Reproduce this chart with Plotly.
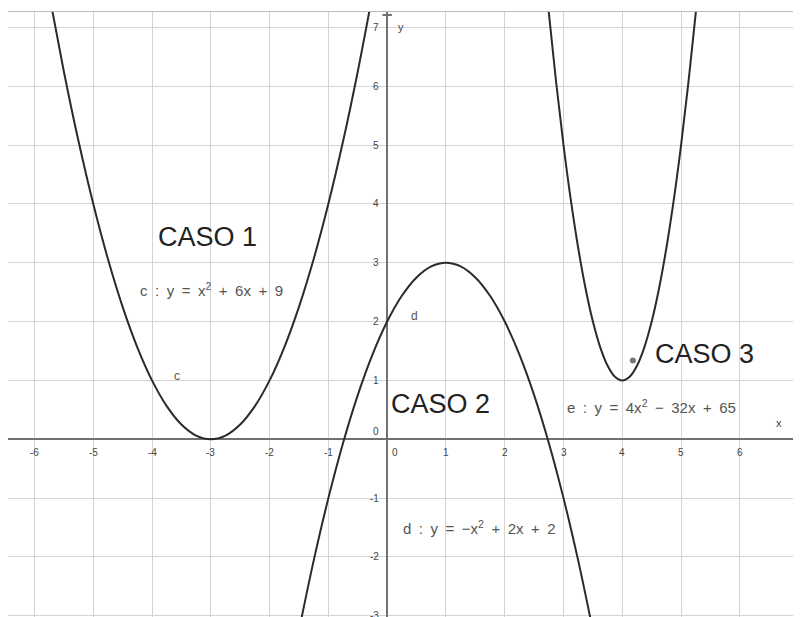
import plotly.graph_objects as go

# ---- data ----
c_x = [-6.0, -5.75, -5.5, -5.25, -5.0, -4.75, -4.5, -4.25, -4.0, -3.75, -3.5, -3.25, -3.0,
       -2.75, -2.5, -2.25, -2.0, -1.75, -1.5, -1.25, -1.0, -0.75, -0.5, -0.25, 0.0]
c_y = [9, 7.5625, 6.25, 5.0625, 4, 3.0625, 2.25, 1.5625, 1, 0.5625, 0.25, 0.0625, 0,
       0.0625, 0.25, 0.5625, 1, 1.5625, 2.25, 3.0625, 4, 5.0625, 6.25, 7.5625, 9]

d_x = [-1.5, -1.25, -1.0, -0.75, -0.5, -0.25, 0.0, 0.25, 0.5, 0.75, 1.0, 1.25, 1.5, 1.75,
       2.0, 2.25, 2.5, 2.75, 3.0, 3.25, 3.5]
d_y = [-3.25, -2.0625, -1, -0.0625, 0.75, 1.4375, 2, 2.4375, 2.75, 2.9375, 3, 2.9375, 2.75,
       2.4375, 2, 1.4375, 0.75, -0.0625, -1, -2.0625, -3.25]

e_x = [2.5, 2.625, 2.75, 2.875, 3.0, 3.125, 3.25, 3.375, 3.5, 3.625, 3.75, 3.875, 4.0,
       4.125, 4.25, 4.375, 4.5, 4.625, 4.75, 4.875, 5.0, 5.125, 5.25, 5.375, 5.5]
e_y = [10, 8.5625, 7.25, 6.0625, 5, 4.0625, 3.25, 2.5625, 2, 1.5625, 1.25, 1.0625, 1,
       1.0625, 1.25, 1.5625, 2, 2.5625, 3.25, 4.0625, 5, 6.0625, 7.25, 8.5625, 10]

point_x = [4.18]
point_y = [1.34]

x_ticks = [-6, -5, -4, -3, -2, -1, 1, 2, 3, 4, 5, 6, 7]
y_ticks = [-3, -2, -1, 1, 2, 3, 4, 5, 6, 7]

case_labels = ["CASO 1", "CASO 2", "CASO 3"]
case_x = [-3.05, 0.9, 5.4]
case_y = [3.43, 0.6, 1.45]

S = "\u2002"
eq_labels = [f"c{S}:{S}y{S}={S}x<sup>2</sup>{S}+{S}6x{S}+{S}9",
             f"d{S}:{S}y{S}={S}\u2212x<sup>2</sup>{S}+{S}2x{S}+{S}2",
             f"e{S}:{S}y{S}={S}4x<sup>2</sup>{S}\u2212{S}32x{S}+{S}65"]
eq_x = [-2.98, 1.57, 4.5]
eq_y = [2.55, -1.5, 0.55]

name_labels = ["c", "d"]
name_x = [-3.57, 0.47]
name_y = [1.07, 2.09]

curve_color = "#2b2b2b"
fig = go.Figure()
for xs, ys in [(c_x, c_y), (d_x, d_y), (e_x, e_y)]:
    fig.add_trace(go.Scatter(x=xs, y=ys, mode="lines", line=dict(color=curve_color, width=2, shape="spline"),
                             hoverinfo="skip", showlegend=False))
fig.add_trace(go.Scatter(x=point_x, y=point_y, mode="markers", marker=dict(color="#777777", size=6),
                         hoverinfo="skip", showlegend=False))

ann = []
font_tick = dict(family="Liberation Sans, Arial", size=10, color="#444444")
for v in x_ticks:
    if v == x_ticks[-1]:
        ann.append(dict(x=v, y=0, text=str(v), showarrow=False, font=font_tick, yanchor="top", yshift=-6,
                        xanchor="left", xshift=-3))
    else:
        ann.append(dict(x=v, y=0, text=str(v), showarrow=False, font=font_tick, yanchor="top", yshift=-6))
ann.append(dict(x=0, y=0, text="0", showarrow=False, font=font_tick, yanchor="top", yshift=-6, xshift=8))
for v in y_ticks:
    ann.append(dict(x=0, y=v, text=str(v), showarrow=False, font=font_tick, xanchor="right", xshift=-6))
ann.append(dict(x=0, y=0, text="0", showarrow=False, font=font_tick, xanchor="right", xshift=-6, yshift=8))
ann.append(dict(x=6.67, y=0.28, text="x", showarrow=False, font=dict(family="Liberation Sans", size=11, color="#444444")))
ann.append(dict(x=0.23, y=7.0, text="y", showarrow=False, font=dict(family="Liberation Sans", size=11, color="#444444")))

for t, x, y in zip(case_labels, case_x, case_y):
    ann.append(dict(x=x, y=y, text=t, showarrow=False, font=dict(family="Liberation Sans, Arial", size=27, color="#222222")))
for t, x, y in zip(eq_labels, eq_x, eq_y):
    ann.append(dict(x=x, y=y, text=t, showarrow=False, font=dict(family="Liberation Sans, Arial", size=15, color="#555555")))
for t, x, y in zip(name_labels, name_x, name_y):
    ann.append(dict(x=x, y=y, text=t, showarrow=False, font=dict(family="Liberation Sans, Arial", size=12, color="#555555")))

fig.update_layout(
    width=793, height=609,
    margin=dict(l=0, r=0, t=4, b=0),
    paper_bgcolor="white", plot_bgcolor="white",
    annotations=ann,
    xaxis=dict(range=[-6.45, 7.04], dtick=1, tick0=0, showgrid=True, gridcolor="#d4d4d4", gridwidth=1,
               zeroline=True, zerolinecolor="#707070", zerolinewidth=2, showticklabels=False, ticks="",
               showline=True, linecolor="#bbbbbb", linewidth=1, mirror=True),
    yaxis=dict(range=[-3.02, 7.26], dtick=1, tick0=0, showgrid=True, gridcolor="#d4d4d4", gridwidth=1,
               zeroline=True, zerolinecolor="#707070", zerolinewidth=2, showticklabels=False, ticks="",
               showline=False),
    shapes=[dict(type="line", xref="x", yref="paper", x0=-0.08, x1=0.08, y0=0.995, y1=0.995,
                 line=dict(color="#707070", width=2))],
)
fig.write_html("out.html")
